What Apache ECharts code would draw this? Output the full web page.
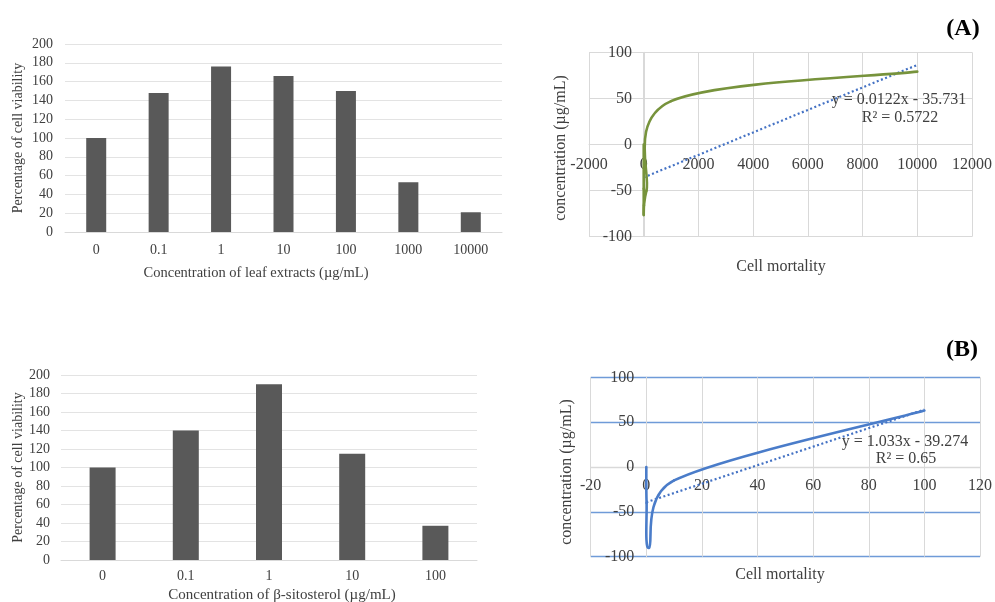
<!DOCTYPE html>
<html><head><meta charset="utf-8">
<script src="https://cdn.jsdelivr.net/npm/echarts@6/dist/echarts.min.js"></script>
<style>html,body{margin:0;padding:0;background:#fff}#c{width:995px;height:602px}</style>
</head><body><div id="c"></div>
<script>
// Bar charts: percentage of cell viability
const catsA = ['0', '0.1', '1', '10', '100', '1000', '10000'];
const viabilityA = [100, 148, 176, 166, 150, 53, 21];
const catsB = ['0', '0.1', '1', '10', '100'];
const viabilityB = [100, 140, 190, 115, 37];
// Scatter/smooth curves
const concA = [0, 0.1, 1, 10, 100, 1000, 10000];
const mortalityA = [0, -48, -76, -66, -50, 47, 79];
const concB = [0, 0.1, 1, 10, 100];
const mortalityB = [0, -40, -90, -15, 63];
// Linear trendline endpoints
const trendA = [[0, -35.7], [10000, 86.3]];
const trendB = [[0, -39.3], [100, 64.0]];
const eqA = ['y = 0.0122x - 35.731', 'R² = 0.5722'];
const eqB = ['y = 1.033x - 39.274', 'R² = 0.65'];

const FONT = '"Liberation Serif", "Times New Roman", serif';
const TXT = '#404040';
const GRID_GRAY = '#d9d9d9';
const BLUE_GRID = '#6f9bd8';

const pairs = (xs, ys) => xs.map((x, i) => [x, ys[i]]);
const plain = v => String(v);

// grid boxes
const G = [
  {left: 65, top: 44, width: 437, height: 188},
  {left: 589, top: 52.3, width: 385, height: 184.4},
  {left: 61, top: 375, width: 416, height: 185},
  {left: 590.7, top: 377.3, width: 389.3, height: 179.4}
];
// crossing offsets so axes sit on zero (like Excel)
const xMinA = -2000, xMaxA = 12000, xMinB = -20, xMaxB = 120, yMin = -100, yMax = 100;
const offXA = -G[1].height * (0 - yMin) / (yMax - yMin);
const offYA = -G[1].width * (0 - xMinA) / (xMaxA - xMinA);
const offXB = -G[3].height * (0 - yMin) / (yMax - yMin);
const offYB = -G[3].width * (0 - xMinB) / (xMaxB - xMinB);

const chart = echarts.init(document.getElementById('c'), null, {renderer: 'canvas'});

// Excel-style smoothed line: cubic Bezier through the data points (screen space),
// tangent = (next - prev) / 6, with handle length capped at half the segment.
function handle(from, to, dx, dy) {
  const seg = Math.hypot(to[0] - from[0], to[1] - from[1]);
  const len = Math.hypot(dx, dy);
  const k = len > seg * 0.5 && len > 0 ? seg * 0.5 / len : 1;
  return [dx * k, dy * k];
}
function smoothSeries(axisIdx, xs, ys, color, width) {
  const data = pairs(xs, ys);
  return {
    type: 'custom', xAxisIndex: axisIdx, yAxisIndex: axisIdx, data: data, z: 4,
    renderItem: function (params, api) {
      if (params.dataIndex !== 0) return null;
      const P = data.map(d => api.coord(d));
      const n = P.length, kids = [];
      for (let i = 0; i < n - 1; i++) {
        const p0 = P[Math.max(i - 1, 0)], p1 = P[i], p2 = P[i + 1], p3 = P[Math.min(i + 2, n - 1)];
        const h1 = handle(p1, p2, (p2[0] - p0[0]) / 6, (p2[1] - p0[1]) / 6);
        const h2 = handle(p1, p2, (p3[0] - p1[0]) / 6, (p3[1] - p1[1]) / 6);
        kids.push({
          type: 'bezierCurve',
          shape: {
            x1: p1[0], y1: p1[1], x2: p2[0], y2: p2[1],
            cpx1: p1[0] + h1[0], cpy1: p1[1] + h1[1],
            cpx2: p2[0] - h2[0], cpy2: p2[1] - h2[1]
          },
          style: {stroke: color, lineWidth: width, fill: 'none', lineCap: 'round'}
        });
      }
      return {type: 'group', children: kids};
    }
  };
}

function barX(idx, cats, margin) {
  return {
    type: 'category', gridIndex: idx, data: cats,
    axisLine: {show: true, lineStyle: {color: GRID_GRAY}},
    axisTick: {show: false},
    axisLabel: {color: TXT, fontFamily: FONT, fontSize: 14, margin: margin}
  };
}
function barY(idx, margin, nameGap) {
  return {
    type: 'value', gridIndex: idx, min: 0, max: 200, interval: 20,
    axisLine: {show: false}, axisTick: {show: false},
    splitLine: {lineStyle: {color: '#e3e3e3'}},
    axisLabel: {color: TXT, fontFamily: FONT, fontSize: 14, margin: margin},
    name: 'Percentage of cell viability', nameLocation: 'middle', nameGap: nameGap,
    nameTextStyle: {color: TXT, fontFamily: FONT, fontSize: 14}
  };
}
function txt(x, y, text, size, opts) {
  return Object.assign({type: 'text', x: x, y: y, z: 10,
    style: {text: text, font: size + 'px ' + FONT, fill: TXT, textAlign: 'center', textVerticalAlign: 'middle'}}, opts || {});
}

const option = {
  animation: false,
  backgroundColor: '#fff',
  grid: G,
  xAxis: [
    barX(0, catsA, 11),
    {
      type: 'value', gridIndex: 1, min: xMinA, max: xMaxA, interval: 2000,
      position: 'bottom', offset: offXA,
      axisLine: {show: true, onZero: false, lineStyle: {color: GRID_GRAY}},
      axisTick: {show: false},
      splitLine: {lineStyle: {color: GRID_GRAY}},
      axisLabel: {color: TXT, fontFamily: FONT, fontSize: 16, margin: 12, formatter: plain}
    },
    barX(2, catsB, 9),
    {
      type: 'value', gridIndex: 3, min: xMinB, max: xMaxB, interval: 20,
      position: 'bottom', offset: offXB,
      axisLine: {show: true, onZero: false, lineStyle: {color: GRID_GRAY}},
      axisTick: {show: false},
      splitLine: {lineStyle: {color: GRID_GRAY}},
      axisLabel: {color: TXT, fontFamily: FONT, fontSize: 16, margin: 11, formatter: plain}
    }
  ],
  yAxis: [
    barY(0, 12, 40),
    {
      type: 'value', gridIndex: 1, min: yMin, max: yMax, interval: 50,
      position: 'left', offset: offYA,
      axisLine: {show: true, onZero: false, lineStyle: {color: GRID_GRAY}},
      axisTick: {show: false},
      splitLine: {lineStyle: {color: GRID_GRAY}},
      axisLabel: {color: TXT, fontFamily: FONT, fontSize: 16, margin: 12, formatter: plain}
    },
    barY(2, 11, 36),
    {
      type: 'value', gridIndex: 3, min: yMin, max: yMax, interval: 50,
      position: 'left', offset: offYB,
      axisLine: {show: true, onZero: false, lineStyle: {color: GRID_GRAY}},
      axisTick: {show: false},
      splitLine: {lineStyle: {color: [BLUE_GRID, BLUE_GRID, GRID_GRAY, BLUE_GRID, BLUE_GRID], width: 1.3}},
      axisLabel: {color: TXT, fontFamily: FONT, fontSize: 16, margin: 12, formatter: plain}
    }
  ],
  series: [
    {type: 'bar', xAxisIndex: 0, yAxisIndex: 0, data: viabilityA, barWidth: 20,
     itemStyle: {color: '#595959'}},
    {type: 'bar', xAxisIndex: 2, yAxisIndex: 2, data: viabilityB, barWidth: 26,
     itemStyle: {color: '#595959'}},
    {type: 'line', xAxisIndex: 1, yAxisIndex: 1, data: trendA, showSymbol: false, z: 3,
     lineStyle: {color: '#4472c4', width: 2.2, type: [2, 2.5]}},
    smoothSeries(1, concA, mortalityA, '#77933c', 2.6),
    {type: 'line', xAxisIndex: 3, yAxisIndex: 3, data: trendB, showSymbol: false, z: 3,
     lineStyle: {color: '#4472c4', width: 2.2, type: [2, 2.5]}},
    smoothSeries(3, concB, mortalityB, '#4a7cc9', 2.6)
  ],
  graphic: [
    {type: 'text', x: 963, y: 29, z: 10, style: {text: '(A)', font: 'bold 24px ' + FONT, fill: '#000', textAlign: 'center', textVerticalAlign: 'middle'}},
    {type: 'text', x: 962, y: 350, z: 10, style: {text: '(B)', font: 'bold 24px ' + FONT, fill: '#000', textAlign: 'center', textVerticalAlign: 'middle'}},
    txt(899, 100, eqA[0], 16),
    txt(900, 118, eqA[1], 16),
    txt(905, 441.7, eqB[0], 16),
    txt(906, 459, eqB[1], 16),
    txt(561, 148, 'concentration (µg/mL)', 16, {rotation: Math.PI / 2}),
    txt(781, 267, 'Cell mortality', 16),
    txt(567, 472, 'concentration (µg/mL)', 16, {rotation: Math.PI / 2}),
    txt(780, 575, 'Cell mortality', 16),
    txt(256, 273, 'Concentration of leaf extracts (µg/mL)', 14.5),
    txt(282, 595, 'Concentration of β-sitosterol (µg/mL)', 15)
  ]
};
chart.setOption(option);
</script>
</body></html>
